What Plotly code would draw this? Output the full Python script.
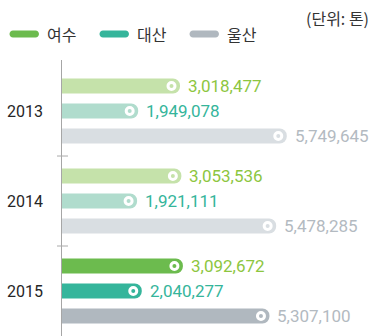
import plotly.graph_objects as go

# Annual volumes (tonnes) by port, 2013-2015
years = ["2013", "2014", "2015"]
yeosu = [3018477, 3053536, 3092672]
daesan = [1949078, 1921111, 2040277]
ulsan = [5749645, 5478285, 5307100]
series_names = ["여수", "대산", "울산"]

# colours: strong tone for the latest year, pale tone for earlier years
strong = ["#6cbb4e", "#35b59b", "#b0b8bf"]
pale = ["#c5e2aa", "#b0dccd", "#d9dee2"]
label_col = ["#8dc63f", "#35b59b", "#b3bac1"]

W, H = 372, 336
ML, MT = 62, 60
plot_w = W - ML
plot_h = H - MT
x_max = 7.93e6
px_per = plot_w / x_max           # pixels per tonne on the x axis
y_top, y_bot = -0.567, 2.5        # y range in category units (reversed)
unit_px = plot_h / (y_bot - y_top)
offset = 25 / unit_px             # spacing between the three bars of a year
bar_w = 15 / unit_px

fig = go.Figure()
values = [yeosu, daesan, ulsan]
for s, vals in enumerate(values):
    ys = [i + (s - 1) * offset for i in range(len(years))]
    cols = [strong[s] if i == len(years) - 1 else pale[s] for i in range(len(years))]
    fig.add_trace(go.Bar(
        x=vals, y=ys, orientation="h", width=bar_w,
        marker=dict(color=cols, cornerradius="50%", line=dict(width=0)),
        showlegend=False, hoverinfo="skip",
    ))
    # ring marker near the rounded end of each bar
    fig.add_trace(go.Scatter(
        x=[v - 8.5 / px_per for v in vals], y=ys, mode="markers",
        marker=dict(size=7, color=cols, line=dict(color="white", width=3)),
        showlegend=False, hoverinfo="skip",
    ))
    for i, v in enumerate(vals):
        fig.add_annotation(
            x=v, y=ys[i], xref="x", yref="y", text=f"{v:,}",
            showarrow=False, xanchor="left", yanchor="middle", xshift=6,
            font=dict(family="Roboto", size=17, color=label_col[s]),
        )

# year labels left of the axis
for i, yr in enumerate(years):
    fig.add_annotation(
        x=0, y=i, xref="paper", yref="y", text=yr, showarrow=False,
        xanchor="right", yanchor="middle", xshift=-17,
        font=dict(family="Roboto", size=16, color="#262626"),
    )

shapes = []
# small cross ticks between year groups
for yb in [0.5, 1.5]:
    shapes.append(dict(
        type="line", xref="paper", yref="y", xsizemode="pixel", xanchor=0,
        x0=-5, x1=6, y0=yb, y1=yb, line=dict(color="#aaaaaa", width=1),
    ))


def capsule(x0, x1, yc, h):
    # rounded pill path in pixels (relative to anchor)
    r = h / 2
    k = 0.5523 * r
    return (f"M{x0 + r},{yc - r} L{x1 - r},{yc - r} "
            f"C{x1 - r + k},{yc - r} {x1},{yc - k} {x1},{yc} "
            f"C{x1},{yc + k} {x1 - r + k},{yc + r} {x1 - r},{yc + r} "
            f"L{x0 + r},{yc + r} "
            f"C{x0 + r - k},{yc + r} {x0},{yc + k} {x0},{yc} "
            f"C{x0},{yc - k} {x0 + r - k},{yc - r} {x0 + r},{yc - r} Z")


# legend drawn above the plot
leg_x = [9.5, 99.5, 189.5]
leg_y = 34
for s in range(3):
    px0 = leg_x[s] - ML
    # pixel offsets relative to the top-left corner of the plot area; y up
    shapes.append(dict(
        type="path", xref="paper", yref="paper", xsizemode="pixel", ysizemode="pixel",
        xanchor=0, yanchor=1, path=capsule(px0, px0 + 29.5, MT - leg_y, 7),
        fillcolor=strong[s], line=dict(width=0),
    ))
    fig.add_annotation(
        x=0, y=1, xref="paper", yref="paper", text=series_names[s], showarrow=False,
        xanchor="left", yanchor="middle", xshift=leg_x[s] + 35 - ML, yshift=MT - leg_y,
        font=dict(family="Noto Sans CJK KR", size=16, color="#333333"),
    )

fig.add_annotation(
    x=1, y=1, xref="paper", yref="paper", text="(단위: 톤)", showarrow=False,
    xanchor="right", yanchor="middle", xshift=-1, yshift=MT - 18,
    font=dict(family="Noto Sans CJK KR", size=16, color="#333333"),
)

fig.update_layout(
    width=W, height=H,
    margin=dict(l=ML, r=0, t=MT, b=0),
    paper_bgcolor="white", plot_bgcolor="white",
    shapes=shapes,
    barmode="overlay",
    showlegend=False,
    xaxis=dict(range=[0, x_max], visible=False, fixedrange=True),
    yaxis=dict(range=[y_bot, y_top], showticklabels=False, showgrid=False,
               zeroline=False, showline=True, linecolor="#a6a6a6", linewidth=1,
               ticks="", fixedrange=True),
)

fig.write_html("out.html")
